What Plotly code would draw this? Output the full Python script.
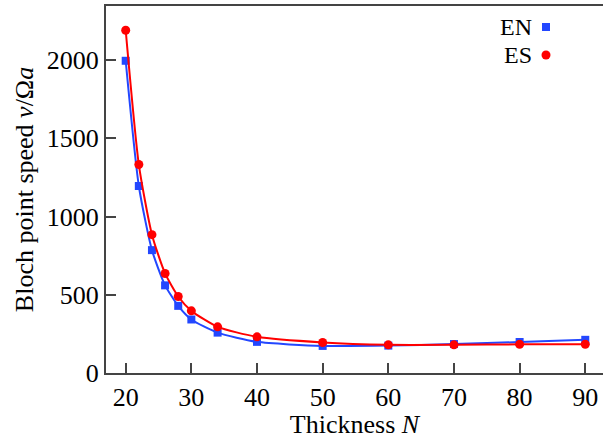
import plotly.graph_objects as go

thickness = [20, 22, 24, 26, 28, 30, 34, 40, 50, 60, 70, 80, 90]
speed_en = [1995, 1195, 785, 560, 429, 342, 258, 199, 173, 175, 185, 198, 212]
speed_es = [2190, 1332, 884, 636, 489, 397, 295, 231, 195, 180, 180, 183, 184]

x_ticks = [20, 30, 40, 50, 60, 70, 80, 90]
y_ticks = [0, 500, 1000, 1500, 2000]

BLUE = "#2347ff"
RED = "#ff0000"
FONT = "Times New Roman, Liberation Serif, DejaVu Serif, serif"
AX = "#444444"
FS = 26

W, H = 603, 439
ML, MR, MT, MB = 106, 0, 6, 66

fig = go.Figure()
fig.add_trace(go.Scatter(
    x=thickness, y=speed_en, mode="lines+markers", name="EN",
    line=dict(color=BLUE, width=2, shape="spline", smoothing=0.6),
    marker=dict(symbol="square", size=8, color=BLUE),
))
fig.add_trace(go.Scatter(
    x=thickness, y=speed_es, mode="lines+markers", name="ES",
    line=dict(color=RED, width=2, shape="spline", smoothing=0.6),
    marker=dict(symbol="circle", size=9, color=RED),
))

fig.update_layout(
    width=W, height=H,
    margin=dict(l=ML, r=MR, t=MT, b=MB),
    paper_bgcolor="white", plot_bgcolor="white",
    showlegend=False,
    font=dict(family=FONT, size=FS, color="black"),
)
fig.update_xaxes(
    range=[17, 92.7], tickvals=x_ticks, ticks="inside", ticklen=10,
    tickcolor=AX, tickwidth=1.5, showgrid=False, zeroline=False,
    showline=True, linecolor=AX, linewidth=2, mirror=True,
    tickfont=dict(family=FONT, size=FS),
    title=dict(text="Thickness <i>N</i>", font=dict(family=FONT, size=FS), standoff=2),
)
fig.update_yaxes(
    range=[0, 2345], tickvals=y_ticks, ticks="inside", ticklen=10,
    tickcolor=AX, tickwidth=1.5, showgrid=False, zeroline=False,
    showline=True, linecolor=AX, linewidth=2, mirror=False,
    tickfont=dict(family=FONT, size=FS),
    title=dict(text="Bloch point speed <i>v</i>/Ω<i>a</i>", font=dict(family=FONT, size=FS), standoff=6),
)

pw = W - ML - MR
ph = H - MT - MB

def px(xp):
    return (xp - ML) / pw

def py(yp):
    return 1 - (yp - MT) / ph

legend_items = [("EN", 27, "square", BLUE), ("ES", 55, "circle", RED)]
for label, yc, sym, col in legend_items:
    fig.add_annotation(
        xref="paper", yref="paper", x=px(534), y=py(yc),
        xanchor="right", yanchor="middle", text=label, showarrow=False,
        font=dict(family=FONT, size=24, color="black"),
    )
    h = 4.5
    if sym == "square":
        fig.add_shape(type="rect", xref="paper", yref="paper",
                      x0=px(546 - 4), x1=px(546 + 4), y0=py(yc + 4), y1=py(yc - 4),
                      fillcolor=col, line=dict(width=0))
    else:
        fig.add_shape(type="circle", xref="paper", yref="paper",
                      x0=px(546 - h), x1=px(546 + h), y0=py(yc + h), y1=py(yc - h),
                      fillcolor=col, line=dict(width=0))

fig.write_html("out.html")
